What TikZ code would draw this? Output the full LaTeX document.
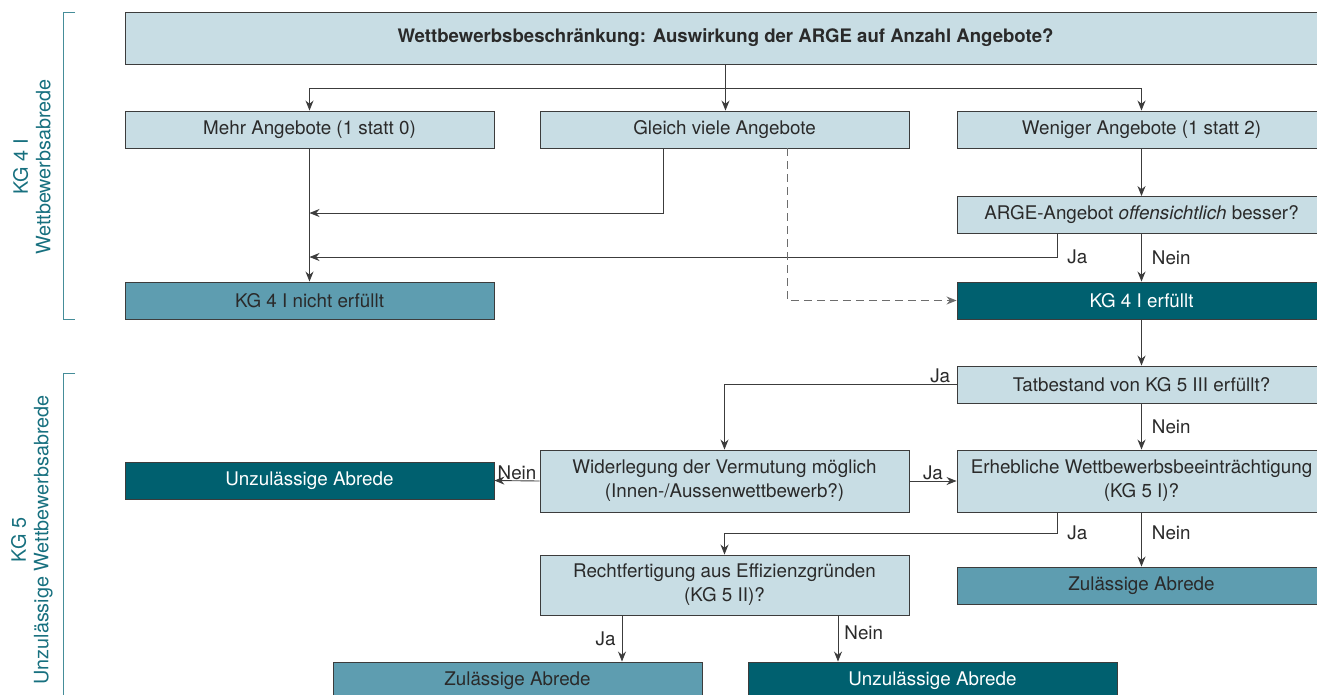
\documentclass[tikz,border=0pt]{standalone}
\usepackage{fontspec}
\setmainfont{TeX Gyre Heros}
\usetikzlibrary{arrows.meta}
\definecolor{hellblau}{HTML}{C8DDE4}
\definecolor{mittel}{HTML}{5E9DB0}
\definecolor{dunkel}{HTML}{00606F}
\definecolor{rand}{HTML}{3C3C3C}
\definecolor{schrift}{HTML}{2A2A2A}
\definecolor{klammer}{HTML}{17707F}
\tikzset{
	kasten/.style={draw=rand, line width=0.9pt, text=schrift, minimum width=369pt,
		minimum height=37pt, inner sep=0pt, align=center,
		font=\fontsize{18.8}{24}\selectfont},
	frage/.style={kasten, fill=hellblau},
	nein/.style={kasten, fill=mittel},
	ja/.style={kasten, fill=dunkel, text=white},
	pfeil/.style={draw=rand, line width=0.9pt, -{Stealth[length=10pt,width=8pt]}},
	lbl/.style={text=schrift, inner sep=2pt, font=\fontsize{18.8}{24}\selectfont},
	klammerlinie/.style={draw=klammer!80, line width=0.9pt}
}
\begin{document}
\begin{tikzpicture}[x=1pt, y=-1pt]
	\useasboundingbox (0,0) rectangle (1317,694);
	\clip (0,0) rectangle (1317,694);
	% Klammern links
	\draw[klammerlinie] (75,12) -| (63,319) -- (75,319);
	\draw[klammerlinie] (75,373) -| (63,720);
	\node[rotate=90, align=center, text=klammer, font=\fontsize{19.8}{22.5}\selectfont]
		(kg4) at (32,167) {KG 4 I\\Wettbewerbsabrede};
	\node[rotate=90, align=center, text=klammer, font=\fontsize{19.8}{22.5}\selectfont]
		(kg5) at (32,540) {KG 5\\Unzulässige Wettbewerbsabrede};
	% Kasten
	\node[frage, minimum width=1201pt, minimum height=52pt, font=\fontsize{18.6}{24}\selectfont\bfseries]
		(start) at (725.5,38) {Wettbewerbsbeschränkung: Auswirkung der ARGE auf Anzahl Angebote?};
	\node[frage] (mehr) at (309.5,129.5) {Mehr Angebote (1 statt 0)};
	\node[frage] (gleich) at (724.5,129.5) {Gleich viele Angebote};
	\node[frage] (weniger) at (1141.5,129.5) {Weniger Angebote (1 statt 2)};
	\node[frage] (arge) at (1141.5,215) {ARGE-Angebot \textit{offensichtlich} besser?};
	\node[nein] (nichterf) at (309.5,300.5) {KG 4 I nicht erfüllt};
	\node[ja] (erf) at (1141.5,300.5) {KG 4 I erfüllt};
	\node[frage] (tatb) at (1141.5,384.5) {Tatbestand von KG 5 III erfüllt?};
	\node[ja] (unz1) at (309.5,480.5) {Unzulässige Abrede};
	\node[frage, minimum height=62pt] (widerl) at (724.5,481) {Widerlegung der Vermutung möglich\\(Innen-/Aussenwettbewerb?)};
	\node[frage, minimum height=62pt] (erhebl) at (1141.5,481) {Erhebliche Wettbewerbsbeeinträchtigung\\(KG 5 I)?};
	\node[nein] (zul1) at (1141.5,585.5) {Zulässige Abrede};
	\node[frage, minimum height=60pt] (recht) at (724.5,585) {Rechtfertigung aus Effizienzgründen\\(KG 5 II)?};
	\node[nein] (zul2) at (517.5,680.5) {Zulässige Abrede};
	\node[ja] (unz2) at (932.5,680.5) {Unzulässige Abrede};
	% Verbindungen
	\coordinate (split) at (725.5,88);
	\coordinate (m1) at (309.5,213);
	\coordinate (m2) at (309.5,257);
	\coordinate (knick) at (724.5,533);
	\draw[draw=rand, line width=0.9pt] (start.south) -- (split);
	\draw[pfeil] (split) -| (mehr.north);
	\draw[pfeil] (split) -- (split |- gleich.north);
	\draw[pfeil] (split) -| (weniger.north);
	\draw[pfeil] (mehr) -- (nichterf);
	\draw[pfeil] ([xshift=-61.5pt]gleich.south) |- (m1);
	\draw[pfeil] (weniger) -- (arge);
	\draw[pfeil] ([xshift=-84.5pt]arge.south) |- node[lbl, pos=0.5, anchor=west, xshift=8pt]{Ja} (m2);
	\draw[pfeil] (arge) -- node[lbl, anchor=west, xshift=8pt]{Nein} (erf);
	\draw[pfeil, draw=rand!75, dash pattern=on 8pt off 5pt] ([xshift=62.5pt]gleich.south) |- (erf.west);
	\draw[pfeil] (erf) -- (tatb);
	\draw[pfeil] (tatb.west) -| node[lbl, pos=0, anchor=south east, xshift=-4pt, yshift=-1pt]{Ja} (widerl.north);
	\draw[pfeil] (tatb) -- node[lbl, anchor=west, xshift=8pt]{Nein} (erhebl);
	\draw[pfeil] (widerl.west) -- node[lbl, above, yshift=-1pt]{Nein} (unz1.east);
	\draw[pfeil] (widerl.east) -- node[lbl, above, yshift=-1pt]{Ja} (erhebl.west);
	\draw[draw=rand, line width=0.9pt] ([xshift=-84.5pt]erhebl.south) |- node[lbl, pos=0.5, anchor=west, xshift=8pt]{Ja} (knick);
	\draw[pfeil] (knick) -- (recht.north);
	\draw[pfeil] (erhebl) -- node[lbl, anchor=west, xshift=8pt, yshift=7pt]{Nein} (zul1);
	\draw[pfeil] ([xshift=-102.5pt]recht.south) -- node[lbl, anchor=east, xshift=-4pt]{Ja} ([xshift=-102.5pt]recht.south |- zul2.north);
	\draw[pfeil] ([xshift=113.5pt]recht.south) -- node[lbl, anchor=west, xshift=4pt, yshift=6pt]{Nein} ([xshift=113.5pt]recht.south |- unz2.north);
\end{tikzpicture}
\end{document}
